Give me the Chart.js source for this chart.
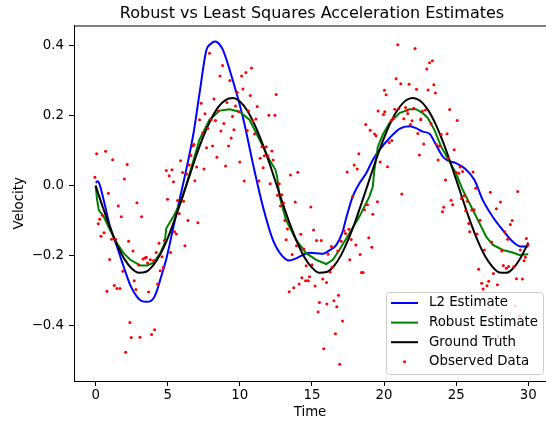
<!DOCTYPE html>
<html lang="en">
<head>
    <meta charset="UTF-8">
    <title>Robust vs Least Squares Acceleration Estimates</title>
    <script src="https://cdn.jsdelivr.net/npm/chart.js@4"></script>
    <style>
        body {
            margin: 0;
            background-color: white;
        }
    </style>
</head>
<body>
    <canvas id="velChart" width="546" height="421"></canvas>

    <script>
        // ground truth velocity
        const truthT = [0, 0.5, 1, 1.5, 2, 2.5, 3, 3.5, 4, 4.5, 5, 5.5, 6, 6.5, 7, 7.5, 8, 8.5, 9, 9.5,
            10, 10.5, 11, 11.5, 12, 12.5, 13, 13.5, 14, 14.5, 15, 15.5, 16, 16.5, 17, 17.5, 18, 18.5, 19, 19.5,
            20, 20.5, 21, 21.5, 22, 22.5, 23, 23.5, 24, 24.5, 25, 25.5, 26, 26.5, 27, 27.5, 28, 28.5, 29, 29.5, 30];
        const truthV = [0, -0.062, -0.120, -0.170, -0.210, -0.237, -0.249, -0.246, -0.227, -0.195,
            -0.150, -0.095, -0.035, 0.027, 0.088, 0.143, 0.189, 0.224, 0.244, 0.250,
            0.240, 0.215, 0.176, 0.127, 0.070, 0.008, -0.054, -0.113, -0.164, -0.206,
            -0.234, -0.249, -0.247, -0.231, -0.200, -0.156, -0.103, -0.043, 0.019, 0.080,
            0.136, 0.184, 0.220, 0.243, 0.250, 0.242, 0.219, 0.182, 0.134, 0.078,
            0.017, -0.045, -0.105, -0.158, -0.201, -0.231, -0.248, -0.249, -0.234, -0.204, -0.163];

        // L2 estimate
        const l2T = [0, 0.15, 0.3, 0.55, 1.0, 1.48, 1.94, 2.4, 2.86, 3.2, 3.56, 3.8, 4.02, 4.25, 4.48, 4.94,
            5.4, 5.87, 6.33, 6.79, 7.2, 7.67, 8.0, 8.29, 8.55, 8.82, 9.5, 10.2, 10.9, 11.6, 12.29, 12.98,
            13.44, 13.9, 14.83, 15.3, 15.75, 16.21, 16.68, 17.1, 17.4, 17.83, 18.3, 18.76, 19.22, 19.68,
            20.37, 21.07, 21.76, 22.22, 22.68, 23.15, 23.61, 24.07, 24.42, 24.99, 25.7, 26.27, 26.84,
            27.53, 28.23, 28.92, 29.5, 30];
        const l2V = [0.008, 0.012, 0.0, -0.04, -0.117, -0.174, -0.231, -0.284, -0.317, -0.330, -0.332, -0.330,
            -0.322, -0.300, -0.269, -0.203, -0.117, -0.031, 0.054, 0.150, 0.262, 0.385, 0.405, 0.411, 0.405,
            0.388, 0.302, 0.197, 0.064, -0.060, -0.155, -0.203, -0.214, -0.208, -0.192, -0.193, -0.195,
            -0.185, -0.170, -0.135, -0.089, -0.031, 0.007, 0.035, 0.073, 0.102, 0.135, 0.162, 0.169, 0.164,
            0.154, 0.148, 0.116, 0.083, 0.071, 0.064, 0.045, 0.016, -0.041, -0.089, -0.127, -0.160, -0.174, -0.174];

        // robust estimate
        const robustT = [0, 0.1, 0.22, 0.55, 1.0, 1.48, 1.94, 2.4, 3.1, 3.56, 4.02, 4.48, 4.78, 4.9, 5.4,
            5.87, 6.33, 6.79, 7.2, 7.9, 8.6, 9.29, 9.98, 10.67, 11.37, 12.06, 12.47, 12.58, 12.75, 13.2,
            13.9, 14.6, 15.3, 15.99, 16.45, 16.9, 17.6, 18.3, 18.99, 19.22, 19.33, 19.57, 19.91, 20.37,
            21.07, 21.76, 22.22, 22.68, 23.03, 23.49, 23.96, 24.53, 24.99, 25.45, 26.15, 26.61, 27.08,
            27.53, 28.23, 28.92, 29.38, 30];
        const robustV = [0.0, -0.04, -0.07, -0.088, -0.127, -0.165, -0.193, -0.212, -0.228, -0.228, -0.220,
            -0.193, -0.165, -0.122, -0.088, -0.050, 0.007, 0.073, 0.131, 0.188, 0.214, 0.218, 0.211, 0.188,
            0.131, 0.073, 0.045, 0.026, -0.031, -0.098, -0.155, -0.193, -0.212, -0.224, -0.212, -0.184,
            -0.136, -0.088, -0.031, -0.003, 0.045, 0.111, 0.145, 0.178, 0.207, 0.218, 0.218, 0.207, 0.193,
            0.159, 0.111, 0.069, 0.035, -0.012, -0.069, -0.107, -0.146, -0.169, -0.184, -0.191, -0.198, -0.196];

        // observed noisy samples [time, velocity]
        const observed = [
            [-0.05, 0.024], [0.07, 0.091], [0.69, 0.098], [1.18, 0.074], [2.19, 0.060], [1.99, 0.019],
            [0.88, -0.022], [2.86, -0.049], [1.57, -0.058], [1.78, -0.089], [3.19, -0.089], [0.46, -0.085],
            [0.28, -0.096], [0.18, -0.109], [0.58, -0.135], [0.37, -0.145], [1.11, -0.153], [1.39, -0.153],
            [2.29, -0.159], [2.59, -0.187], [0.97, -0.211], [2.98, -0.227], [3.28, -0.210], [3.42, -0.207],
            [3.51, -0.205], [3.79, -0.212], [4.02, -0.214], [3.60, -0.221], [4.20, -0.191], [4.39, -0.165],
            [4.60, -0.203], [4.78, -0.157], [4.48, -0.243], [4.69, -0.234], [4.30, -0.281], [5.20, -0.191],
            [1.89, -0.245], [2.68, -0.272], [2.79, -0.297], [1.29, -0.285], [1.48, -0.294], [1.69, -0.294],
            [0.79, -0.302], [3.67, -0.304], [2.38, -0.391], [4.09, -0.412], [3.88, -0.425], [2.47, -0.434],
            [3.07, -0.433], [2.08, -0.476], [4.90, 0.043], [5.29, 0.045], [5.10, 0.028], [5.40, 0.011],
            [4.99, -0.039], [5.89, 0.071], [6.03, 0.037], [6.31, 0.033], [5.68, -0.043], [6.10, -0.045],
            [5.80, -0.080], [5.47, -0.132], [5.60, -0.138], [6.40, -0.100], [7.09, -0.106], [6.19, -0.172],
            [6.61, 0.086], [6.75, 0.114], [6.82, 0.117], [6.49, 0.059], [7.00, 0.053], [6.88, 0.014],
            [7.51, 0.047], [7.42, 0.150], [7.21, 0.188], [7.32, 0.235], [7.58, 0.205],
            [7.90, 0.378], [8.80, 0.343], [8.62, 0.313], [9.31, 0.300], [10.12, 0.313], [10.42, 0.323],
            [10.81, 0.336], [10.21, 0.276], [9.82, 0.266], [10.72, 0.257], [12.52, 0.260], [8.20, 0.247],
            [9.10, 0.237], [9.70, 0.227], [11.20, 0.226], [9.93, 0.211], [10.60, 0.213], [12.01, 0.201],
            [12.43, 0.201], [8.50, 0.213], [8.02, 0.188], [8.31, 0.186], [11.11, 0.190], [10.90, 0.185],
            [8.89, 0.177], [9.49, 0.197], [7.78, 0.163], [8.69, 0.156], [9.59, 0.159], [10.51, 0.157],
            [11.02, 0.147], [9.40, 0.136], [8.11, 0.113], [9.22, 0.113], [7.69, 0.108], [11.53, 0.111],
            [11.83, 0.111], [12.22, 0.099], [11.41, 0.078], [11.94, 0.085], [11.70, 0.085], [12.31, 0.073],
            [8.41, 0.081], [9.01, 0.056], [10.00, 0.067], [11.62, 0.051], [10.30, 0.013], [11.32, 0.013],
            [12.10, 0.005], [12.73, 0.005], [13.51, 0.030], [14.02, 0.038], [12.61, -0.028], [12.91, -0.026],
            [12.82, -0.058], [13.03, -0.050], [13.84, -0.047], [14.92, -0.061], [13.12, -0.100], [13.30, -0.124],
            [15.11, -0.127], [14.23, -0.139], [13.21, -0.155], [13.93, -0.172], [13.63, -0.197], [14.44, -0.181],
            [14.60, -0.229], [15.01, -0.226], [14.30, -0.263], [14.83, -0.260], [14.56, -0.272], [14.75, -0.272],
            [14.11, -0.281], [13.74, -0.292], [13.42, -0.303],
            [20.95, 0.402], [22.15, 0.391], [20.84, 0.305], [21.16, 0.291], [21.74, 0.289], [22.25, 0.275],
            [20.03, 0.272], [20.14, 0.259], [19.59, 0.213], [20.05, 0.211], [19.96, 0.203], [18.73, 0.174],
            [19.04, 0.158], [19.34, 0.147], [19.45, 0.142], [21.02, 0.219], [21.49, 0.223], [21.60, 0.215],
            [22.06, 0.221], [20.74, 0.218], [21.64, 0.206], [20.49, 0.186], [20.65, 0.193], [21.37, 0.191],
            [21.94, 0.185], [21.83, 0.174], [22.55, 0.190], [20.35, 0.123], [20.54, 0.129], [22.34, 0.149],
            [18.25, 0.091], [17.93, 0.059], [18.14, 0.047], [17.44, 0.039], [19.73, 0.067], [20.24, 0.054],
            [21.23, -0.024], [17.83, -0.031], [19.54, -0.046], [18.85, -0.055], [18.64, -0.069], [19.22, -0.082],
            [15.32, -0.157], [15.64, -0.157], [17.23, -0.130], [17.33, -0.137], [17.56, -0.125], [17.03, -0.159],
            [17.72, -0.154], [16.35, -0.174], [16.13, -0.196], [16.79, -0.187], [18.94, -0.149], [19.15, -0.176],
            [18.04, -0.170], [18.34, -0.197], [17.62, -0.212], [16.40, -0.233], [16.26, -0.247], [18.43, -0.248],
            [18.55, -0.248], [15.75, -0.267], [16.01, -0.277], [15.22, -0.287], [15.52, -0.334], [16.03, -0.338],
            [15.43, -0.361], [16.52, -0.329], [16.84, -0.313], [16.72, -0.346], [17.12, -0.387], [16.63, -0.423],
            [15.82, -0.466], [16.93, -0.510],
            [22.96, 0.333], [23.15, 0.351], [23.35, 0.356], [23.05, 0.273], [23.45, 0.288], [23.56, 0.264],
            [22.66, 0.213], [22.87, 0.216], [22.54, 0.188], [23.26, 0.177], [24.55, 0.217], [25.07, 0.186],
            [23.96, 0.146], [24.37, 0.148], [22.75, 0.119], [23.63, 0.117], [23.84, 0.113], [22.45, 0.087],
            [24.86, 0.102], [23.75, 0.073], [24.44, 0.078], [25.27, 0.053], [25.45, 0.040], [25.00, 0.037],
            [25.18, 0.035], [26.17, 0.039], [24.26, 0.016], [27.37, -0.019], [29.27, -0.017], [26.36, -0.008],
            [25.57, -0.029], [25.36, -0.037], [24.65, -0.042], [24.76, -0.055], [28.07, -0.047], [25.78, -0.045],
            [27.79, -0.066], [24.14, -0.062], [24.05, -0.075], [25.66, -0.072], [26.08, -0.070], [26.24, -0.069],
            [26.66, -0.099], [25.87, -0.108], [25.94, -0.132], [26.45, -0.138], [28.88, -0.100], [28.76, -0.111],
            [28.37, -0.132], [28.57, -0.153], [29.87, -0.151], [27.46, -0.161], [29.98, -0.170], [26.96, -0.184],
            [28.16, -0.187], [29.45, -0.184], [29.80, -0.205], [29.71, -0.215], [28.27, -0.228], [28.64, -0.231],
            [28.48, -0.236], [28.99, -0.232], [26.56, -0.239], [27.58, -0.251], [29.18, -0.266], [29.59, -0.267],
            [26.77, -0.279], [27.26, -0.273], [27.14, -0.286], [26.87, -0.295], [27.86, -0.283], [29.08, -0.344],
            [27.72, -0.372], [27.93, -0.431], [29.38, -0.372]
        ];

        const xTicks = [0, 5, 10, 15, 20, 25, 30];
        const yTicks = [-0.4, -0.2, 0, 0.2, 0.4];
        const chartTitle = 'Robust vs Least Squares Acceleration Estimates';

        const toXY = (ts, vs) => ts.map((t, i) => ({ x: t, y: vs[i] }));
        const fmtY = v => (v < -1e-9 ? '\u2212' : '') + Math.abs(v).toFixed(1);

        Chart.defaults.font.family = "'DejaVu Sans', sans-serif";
        Chart.defaults.font.size = 13.33;
        Chart.defaults.color = '#000';

        const legendItems = [
            { text: 'L2 Estimate', color: '#0000ff', kind: 'line' },
            { text: 'Robust Estimate', color: '#008000', kind: 'line' },
            { text: 'Ground Truth', color: '#000000', kind: 'line' },
            { text: 'Observed Data', color: '#ff0000', kind: 'dot' }
        ];

        // title over the axes, top spine, legend in lower right (matplotlib look)
        const mplLegend = {
            id: 'mplLegend',
            afterDraw(chart) {
                const { ctx, chartArea: a } = chart;
                ctx.save();
                ctx.fillStyle = '#000';
                ctx.font = "16px 'DejaVu Sans', sans-serif";
                ctx.textAlign = 'center';
                ctx.textBaseline = 'alphabetic';
                ctx.fillText(chartTitle, (a.left + a.right + 4) / 2, a.top - 8);

                ctx.strokeStyle = '#000';
                ctx.lineWidth = 1;
                ctx.beginPath();
                ctx.moveTo(a.left, a.top + 0.5);
                ctx.lineTo(a.right, a.top + 0.5);
                ctx.stroke();

                const w = 157, h = 82;
                const x0 = a.right - 3 - w, y0 = a.bottom - 7 - h;
                ctx.beginPath();
                ctx.roundRect(x0 + 0.5, y0 + 0.5, w, h, 3);
                ctx.fillStyle = 'rgba(255,255,255,0.8)';
                ctx.fill();
                ctx.strokeStyle = '#cccccc';
                ctx.stroke();

                ctx.font = "13.33px 'DejaVu Sans', sans-serif";
                ctx.textBaseline = 'middle';
                ctx.textAlign = 'left';
                legendItems.forEach((it, i) => {
                    const cy = y0 + 11 + i * 19.6;
                    if (it.kind === 'line') {
                        ctx.strokeStyle = it.color;
                        ctx.lineWidth = 2;
                        ctx.beginPath();
                        ctx.moveTo(x0 + 5, cy);
                        ctx.lineTo(x0 + 32, cy);
                        ctx.stroke();
                    } else {
                        ctx.fillStyle = it.color;
                        ctx.beginPath();
                        ctx.arc(x0 + 18.5, cy, 1.5, 0, Math.PI * 2);
                        ctx.fill();
                    }
                    ctx.fillStyle = '#000';
                    ctx.fillText(it.text, x0 + 43, cy);
                });
                ctx.restore();
            }
        };

        const ctx = document.getElementById('velChart').getContext('2d');
        new Chart(ctx, {
            type: 'scatter',
            data: {
                datasets: [
                    {
                        label: 'L2 Estimate',
                        data: toXY(l2T, l2V),
                        showLine: true,
                        borderColor: '#0000ff',
                        borderWidth: 2,
                        pointRadius: 0,
                        cubicInterpolationMode: 'monotone',
                        order: 4
                    },
                    {
                        label: 'Robust Estimate',
                        data: toXY(robustT, robustV),
                        showLine: true,
                        borderColor: '#008000',
                        borderWidth: 2,
                        pointRadius: 0,
                        order: 3
                    },
                    {
                        label: 'Ground Truth',
                        data: toXY(truthT, truthV),
                        showLine: true,
                        borderColor: '#000000',
                        borderWidth: 2,
                        pointRadius: 0,
                        cubicInterpolationMode: 'monotone',
                        order: 2
                    },
                    {
                        label: 'Observed Data',
                        data: observed.map(([t, v]) => ({ x: t, y: v })),
                        pointRadius: 1.5,
                        pointBackgroundColor: '#ff0000',
                        pointBorderWidth: 0,
                        order: 1
                    }
                ]
            },
            options: {
                responsive: false,
                animation: false,
                layout: { autoPadding: false, padding: { top: 25.5, left: 0, right: 0, bottom: 0 } },
                plugins: {
                    legend: { display: false },
                    tooltip: { enabled: false },
                    title: { display: false }
                },
                scales: {
                    x: {
                        type: 'linear',
                        min: -1.5,
                        max: 31.23,
                        afterBuildTicks: s => { s.ticks = xTicks.map(v => ({ value: v })); },
                        afterFit: s => { s.height = 40; s.paddingLeft = 0; s.paddingRight = 0; },
                        ticks: { padding: 2, maxRotation: 0, autoSkip: false, callback: v => String(v) },
                        grid: { display: true, drawOnChartArea: false, drawTicks: true, tickLength: 5, color: '#000' },
                        border: { display: true, color: '#000', width: 1 },
                        title: { display: true, text: 'Time', padding: { top: 0, bottom: 0 } }
                    },
                    y: {
                        type: 'linear',
                        min: -0.558,
                        max: 0.457,
                        afterBuildTicks: s => { s.ticks = yTicks.map(v => ({ value: v })); },
                        afterFit: s => { s.width = 74; s.paddingTop = 0; s.paddingBottom = 0; },
                        ticks: { padding: 5, autoSkip: false, callback: v => fmtY(v) },
                        grid: { display: true, drawOnChartArea: false, drawTicks: true, tickLength: 5, color: '#000' },
                        border: { display: true, color: '#000', width: 1 },
                        title: { display: true, text: 'Velocity', padding: { top: 12, bottom: 0 } }
                    }
                }
            },
            plugins: [mplLegend]
        });
    </script>
</body>
</html>
